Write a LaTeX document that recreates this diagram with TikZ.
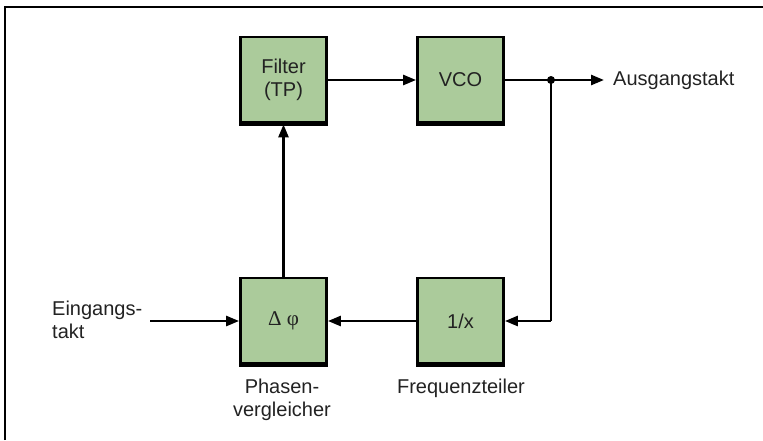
\documentclass[tikz,border=0pt]{standalone}
\usepackage{fontspec}
\setmainfont{Liberation Sans}
\newfontfamily\serifgr{Liberation Serif}
\usetikzlibrary{arrows.meta}
\definecolor{boxgreen}{HTML}{ABCB9B}
\definecolor{txt}{HTML}{222222}
\tikzset{
  blockbox/.style={draw=black, fill=boxgreen, line width=2.8pt, minimum width=86pt, minimum height=86pt, inner sep=0pt, align=center, font=\fontsize{20}{23}\selectfont, text=txt},
  lbl/.style={font=\fontsize{20}{23}\selectfont, text=txt, inner sep=0pt},
  conn/.style={line width=2.6pt, -{Triangle[length=13pt,width=10pt]}},
  plain/.style={line width=2.6pt}
}
\begin{document}
\begin{tikzpicture}[x=1pt,y=-1pt]
\useasboundingbox (0,0) rectangle (763,440);
\draw[line width=2.4pt] (5,440) -- (5,7) -- (763,7);
% blocks
\node[blockbox] (filter) at (283.5,80) {Filter\\(TP)};
\node[blockbox] (vco) at (460.5,80) {VCO};
\node[blockbox] (phase) at (283.5,321) {\serifgr\fontsize{21}{23}\selectfont Δ φ};
\node[blockbox] (div) at (460.5,321) {1/x};
% thick bottom edges
\foreach \b in {filter,vco,phase,div}{
  \draw[line width=4.5pt] ([yshift=1pt]\b.south west) -- ([yshift=1pt]\b.south east);
}
% labels
\node[lbl, anchor=west, align=left] (ein) at (52,320) {Eingangs-\\takt};
\node[lbl, anchor=west] (aus) at (613,80) {Ausgangstakt};
\node[lbl, align=center] (phl) at (282,400) {Phasen-\\vergleicher};
\node[lbl] (frl) at (461,388) {Frequenzteiler};
% connectors
\coordinate (inS) at (150,321);
\coordinate (junc) at (551,80);
\coordinate (outE) at (604,80);
\coordinate (corner) at (551,321);
\draw[conn] (inS) -- (phase.west);
\draw[conn] (phase.north) -- (filter.south);
\draw[conn] (filter.east) -- (vco.west);
\draw[plain] (vco.east) -- (junc);
\draw[conn] (junc) -- (outE);
\draw[plain] (junc) -- (corner);
\draw[conn] (corner) -- (div.east);
\draw[conn] (div.west) -- (phase.east);
\fill (junc) circle (4pt);
\end{tikzpicture}
\end{document}
